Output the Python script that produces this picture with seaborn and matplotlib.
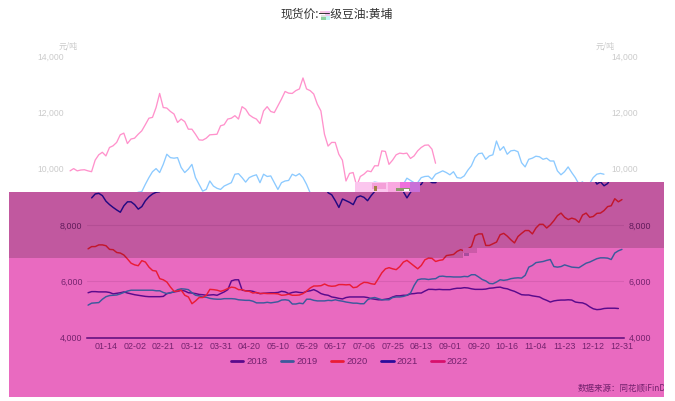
import numpy as np
import pandas as pd
import seaborn as sns
import matplotlib
matplotlib.use("Agg")
import matplotlib.pyplot as plt
from matplotlib.patches import Polygon, Rectangle

# === data ===
tick_labels = ["01-14", "02-02", "02-21", "03-12", "03-31", "04-20", "05-10", "05-29", "06-17", "07-06",
               "07-25", "08-13", "09-01", "09-20", "10-16", "11-04", "11-23", "12-12", "12-31"]
years = ["2018", "2019", "2020", "2021", "2022"]

price_2018 = [5590, 5630, 5630, 5620, 5620, 5620, 5600, 5550, 5570, 5590, 5620, 5580, 5550, 5520, 5500, 5480, 5460, 5450, 5450, 5450,
              5450, 5460, 5560, 5590, 5620, 5640, 5680, 5650, 5590, 5580, 5560, 5530, 5520, 5500, 5510, 5520, 5500, 5560, 5620, 5700,
              6010, 6050, 6050, 5680, 5660, 5660, 5640, 5590, 5560, 5570, 5580, 5590, 5590, 5600, 5640, 5620, 5560, 5600, 5620, 5600,
              5590, 5640, 5660, 5700, 5640, 5560, 5520, 5500, 5440, 5420, 5390, 5370, 5420, 5440, 5440, 5440, 5440, 5440, 5420, 5380,
              5360, 5340, 5340, 5360, 5380, 5440, 5480, 5480, 5500, 5500, 5550, 5560, 5580, 5580, 5650, 5710, 5710, 5700, 5710, 5700,
              5700, 5700, 5730, 5750, 5750, 5770, 5760, 5730, 5710, 5710, 5710, 5720, 5750, 5760, 5780, 5790, 5750, 5730, 5680, 5640,
              5580, 5520, 5510, 5510, 5480, 5460, 5440, 5370, 5320, 5260, 5300, 5320, 5330, 5330, 5340, 5330, 5260, 5240, 5230, 5180,
              5090, 5020, 4990, 5000, 5030, 5040, 5040, 5040, 5030]

price_2019 = [5150, 5220, 5230, 5240, 5360, 5450, 5490, 5500, 5510, 5550, 5600, 5650, 5680, 5680, 5680, 5680, 5680, 5680, 5680, 5660,
              5660, 5600, 5560, 5590, 5620, 5700, 5730, 5720, 5700, 5590, 5500, 5480, 5440, 5430, 5390, 5370, 5360, 5360, 5380, 5380,
              5380, 5370, 5340, 5330, 5320, 5320, 5290, 5230, 5230, 5230, 5250, 5230, 5250, 5270, 5330, 5340, 5320, 5190, 5190, 5220,
              5200, 5360, 5360, 5320, 5300, 5300, 5300, 5320, 5310, 5340, 5310, 5290, 5260, 5240, 5220, 5220, 5200, 5200, 5340, 5400,
              5420, 5380, 5340, 5340, 5340, 5420, 5440, 5440, 5460, 5500, 5580, 5850, 6050, 6080, 6080, 6060, 6080, 6090, 6170, 6180,
              6160, 6160, 6150, 6150, 6150, 6170, 6160, 6230, 6230, 6150, 6060, 6010, 5920, 5910, 5970, 6050, 6030, 6050, 6090, 6110,
              6120, 6110, 6210, 6500, 6560, 6660, 6680, 6700, 6740, 6770, 6520, 6500, 6520, 6580, 6540, 6500, 6490, 6480, 6560, 6640,
              6680, 6740, 6800, 6830, 6830, 6820, 6770, 7000, 7080, 7130]

price_2020 = [7150, 7230, 7230, 7290, 7290, 7260, 7130, 7120, 7020, 7000, 6930, 6790, 6640, 6580, 6550, 6730, 6680, 6500, 6380, 6360,
              6090, 6050, 5970, 5790, 5640, 5650, 5680, 5500, 5440, 5200, 5300, 5420, 5420, 5500, 5710, 5700, 5680, 5640, 5680, 5740,
              5790, 5770, 5700, 5700, 5650, 5640, 5580, 5600, 5560, 5570, 5560, 5560, 5560, 5550, 5500, 5510, 5540, 5500, 5500, 5510,
              5560, 5650, 5760, 5830, 5830, 5840, 5900, 5840, 5820, 5830, 5880, 5880, 5870, 5880, 5770, 5790, 5890, 5960, 5950, 5910,
              5890, 6090, 6300, 6440, 6480, 6440, 6410, 6520, 6680, 6740, 6640, 6540, 6440, 6560, 6760, 6820, 6810, 6700, 6740, 6760,
              6910, 6930, 6950, 7060, 7120, 7070, 7150, 7230, 7620, 7680, 7680, 7270, 7270, 7330, 7390, 7650, 7700, 7600, 7470, 7360,
              7590, 7700, 7800, 7800, 7680, 7890, 8020, 8020, 7890, 8000, 8150, 8330, 8420, 8270, 8190, 8240, 8200, 8090, 8350, 8420,
              8270, 8300, 8410, 8420, 8510, 8650, 8680, 8930, 8820, 8900]

price_2021 = [np.nan, 8960, 9100, 9120, 9040, 8840, 8720, 8620, 8530, 8450, 8680, 8820, 8820, 8720, 8560, 8650, 8860, 9000, 9100, 9160,
              9180, 9440, 9680, 9890, 10000, 9860, 10150, 10510, 10390, 10370, 10390, 10040, 9860, 9980, 10150, 9680, 9440, 9200, 9260, 9560,
              9380, 9300, 9260, 9380, 9440, 9500, 9800, 9820, 9680, 9520, 9680, 9740, 9780, 9500, 9800, 9720, 9740, 9500, 9260, 9500,
              9560, 9580, 9800, 9740, 9820, 9680, 9440, 9140, 9070, 8860, 8620, 8920, 8860, 8800, 8720, 8980, 9030, 8980, 8860, 9040,
              9190, 9400, 9450, 9500, 9480, 9520, 9500, 9350, 9180, 8960, 9160, 9300, 9400, 9440, 9660, 9580, 9500, 9500, 9680, 9720,
              9730, 9620, 9800, 9860, 9920, 9860, 9780, 9890, 9680, 9660, 9740, 9940, 10100, 10390, 10530, 10550, 10330, 10450, 10490, 10980,
              10650, 10780, 10510, 10630, 10650, 10600, 10210, 10060, 10330, 10370, 10440, 10420, 10330, 10370, 10270, 10270, 9920, 9780, 9890, 10060,
              9860, 9680, 9450, 9530, 9390, 9470, 9680, 9800, 9830, 9800]

price_2022 = [9920, 10000, 9920, 9950, 9960, 9920, 9890, 10300, 10490, 10580, 10450, 10750, 10810, 10930, 11200, 11260, 10890, 11050, 11080, 11220,
              11340, 11560, 11790, 11820, 12170, 12670, 12170, 12150, 12030, 11940, 11640, 11760, 11670, 11400, 11400, 11220, 11020, 11010, 11080, 11200,
              11210, 11220, 11520, 11560, 11760, 11790, 11880, 11760, 12200, 12110, 11910, 11820, 11760, 11600, 12050, 12200, 12030, 11990, 12230, 12470,
              12740, 12680, 12670, 12770, 12830, 13220, 12830, 12770, 12650, 12290, 12050, 11220, 10800, 10930, 10930, 10510, 10300, 9560, 9830, 9860,
              9380, 9720, 9800, 9920, 9890, 10100, 10100, 10630, 10610, 10150, 10300, 10490, 10550, 10530, 10550, 10360, 10450, 10630, 10750, 10830,
              10840, 10690, 10190]

all_prices = [price_2018, price_2019, price_2020, price_2021, price_2022]

# === colours ===
dark_colors = dict(zip(years, ["#5a0a8c", "#3c5a9c", "#ea1c36", "#2a0c9c", "#d8106c"]))
pale_colors = {"2021": "#8ccaff", "2022": "#ff92cc"}
magenta = "#e96ac0"
grid_col = "#d85fb2"
low_text = "#74226e"
top_text = "#cbcbcb"

# === long table for seaborn ===
rows = []
for year, vals in zip(years, all_prices):
    rows.append(pd.DataFrame({"day": np.arange(len(vals)), "year": year, "price": vals}))
df = pd.concat(rows).dropna()

W, H = 675, 401


def fx(x):
    return x / W


def fy(y):
    return 1 - y / H


def pts(*pairs):
    return [(fx(x), fy(y)) for x, y in pairs]


def box(left, top, right, bottom):
    return [fx(left), fy(bottom), (right - left) / W, (bottom - top) / H]


sns.set_theme(style="white")
plt.rcParams["font.family"] = ["Liberation Sans", "Noto Sans CJK SC", "DejaVu Sans"]

fig = plt.figure(figsize=(W / 100, H / 100), dpi=100, facecolor="white")

# the picture is torn: the part above the band is shifted 18 px to the left
upper_shape = pts((0, 0), (W, 0), (W, 182), (355, 182), (355, 192), (0, 192))
lower_shape = pts((9, 192), (420, 192), (420, 182), (664, 182), (664, 396.5), (9, 396.5))
band_shape = pts((9, 192), (420, 192), (420, 182), (664, 182), (664, 248), (477, 248), (477, 253), (463, 253), (463, 258), (9, 258))

fig.patches.append(Polygon(lower_shape, closed=True, transform=fig.transFigure, facecolor=magenta, edgecolor="none", figure=fig))

xlim = (-0.3, 149.57)
ylim = (4000, 14000)

# === upper layer (pale lines, grey labels) ===
ax_top = fig.add_axes(box(69, 56, 606, 337.5), facecolor="none")
sns.lineplot(data=df[df["year"].isin(pale_colors)], x="day", y="price", hue="year", palette=pale_colors,
             linewidth=0.95, estimator=None, legend=False, ax=ax_top)
clip_top = Polygon(upper_shape, closed=True, transform=fig.transFigure)
for line in ax_top.get_lines():
    line.set_clip_path(clip_top)
ax_top.set_xlim(xlim)
ax_top.set_ylim(ylim)
ax_top.set_xticks([])
ax_top.set_yticks([10000, 12000, 14000], ["10,000", "12,000", "14,000"])
ax_top.tick_params(axis="y", length=0, pad=3.8, labelsize=6.2, labelcolor=top_text, labelright=True)
ax_top.set_xlabel("")
ax_top.set_ylabel("")
sns.despine(ax=ax_top, left=True, bottom=True)

# === lower layer ===
ax = fig.add_axes(box(87, 56, 624, 337.5), facecolor="none")
sns.lineplot(data=df, x="day", y="price", hue="year", palette=dark_colors, linewidth=1.05, estimator=None, ax=ax)
clip_low = Polygon(lower_shape, closed=True, transform=fig.transFigure)
for line in ax.get_lines():
    line.set_clip_path(clip_low)
ax.set_xlim(xlim)
ax.set_ylim(ylim)
ax.set_xticks(np.arange(len(tick_labels)) * 8 + 5, tick_labels)
ax.set_yticks([4000, 6000, 8000], ["4,000", "6,000", "8,000"])
ax.tick_params(axis="both", length=0, labelsize=6.4, labelcolor=low_text)
ax.tick_params(axis="x", pad=3)
ax.tick_params(axis="y", pad=3.2, labelright=True)
ax.set_xlabel("")
ax.set_ylabel("")
for val in [6000, 8000]:
    ax.axhline(val, color=grid_col, linewidth=0.8, zorder=0)
sns.despine(ax=ax, left=True)
ax.spines["bottom"].set_color("#5a0a7c")
ax.spines["bottom"].set_linewidth(1.1)

handles, labels = ax.get_legend_handles_labels()
ax.legend(handles, labels, loc="center", bbox_to_anchor=(fx(349.5), fy(362)), bbox_transform=fig.transFigure,
          ncol=5, frameon=False, fontsize=6.8, handlelength=1.3, handletextpad=0.3, columnspacing=1.46,
          labelcolor="#74226e")
for h in ax.get_legend().get_lines():
    h.set_linewidth(2)

# darker band over everything in it
ax.add_patch(Polygon(band_shape, closed=True, transform=fig.transFigure, facecolor="black", alpha=0.17,
                     edgecolor="none", clip_on=False, zorder=10))

# torn pixels
glitch = [(355, 182, 65, 10, "#fbc6ee"), (372, 183, 14, 6, "#f4a0d8"), (388, 182, 14, 10, "#f9a8e0"), (400, 182, 14, 6, "#ee70dc"),
          (410, 182, 10, 10, "#c870d8"), (396, 188, 14, 3, "#8c9a6c"), (404, 189, 5, 2, "#ffffff"), (374, 186, 3, 5, "#a08040"),
          (463, 248, 14, 5, "#cc5aa8"), (464, 253, 5, 3, "#a84c9c")]
for x0, y0, w0, h0, col in glitch:
    fig.patches.append(Rectangle((fx(x0), fy(y0 + h0)), w0 / W, h0 / H, transform=fig.transFigure, facecolor=col,
                                 edgecolor="none", figure=fig, zorder=20))
fig.patches[0].set_zorder(-1)

# === texts ===
fig.text(fx(336.5), fy(14), "现货价:一级豆油:黄埔", ha="center", va="center", fontsize=8.5, color="#333333",
         family=["Noto Sans CJK SC", "DejaVu Sans"])
title_glitch = [(320, 11, 7, 3, "#f8c8e0"), (325, 11, 5, 5, "#f4c0f0"), (321, 15, 5, 2, "#e0e0e0"),
                (321, 17, 5, 3, "#90d0a0"), (326, 16, 4, 4, "#c4f4f4")]
for x0, y0, w0, h0, col in title_glitch:
    fig.patches.append(Rectangle((fx(x0), fy(y0 + h0)), w0 / W, h0 / H, transform=fig.transFigure, facecolor=col,
                                 edgecolor="none", figure=fig))
fig.text(fx(68), fy(45.5), "元/吨", ha="center", va="center", fontsize=5.8, color=top_text,
         family=["Noto Sans CJK SC", "DejaVu Sans"])
fig.text(fx(605), fy(45.5), "元/吨", ha="center", va="center", fontsize=5.8, color=top_text,
         family=["Noto Sans CJK SC", "DejaVu Sans"])
foot = fig.text(fx(577.5), fy(388.5), "数据来源：同花顺iFinD", ha="left", va="center", fontsize=6.1, color="#74226e",
                family=["Noto Sans CJK SC", "DejaVu Sans"])
foot.set_clip_path(Rectangle((0, 0), fx(664), 1, transform=fig.transFigure))
foot.set_clip_on(True)

fig.savefig("out.png", dpi=100)
